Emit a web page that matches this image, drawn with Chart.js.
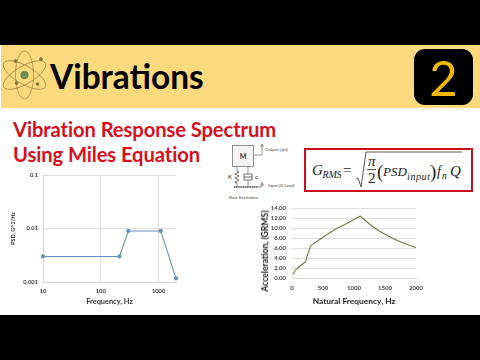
<!DOCTYPE html>
<html><head><meta charset="utf-8">
<script src="https://cdn.jsdelivr.net/npm/chart.js@4"></script>
<style>
html,body{margin:0;padding:0;background:#fff;width:480px;height:360px;overflow:hidden;font-family:Lato,sans-serif}
.abs{position:absolute}
.red{color:#D8101C;font-weight:700;font-size:20.2px;white-space:nowrap;letter-spacing:-.1px}
canvas{position:absolute}
</style></head><body>
<script>
const psdFreq=[10,210,300,1090,2000];
const psdValues=[0.003,0.003,0.009,0.009,0.00117];
const psdXTicks=[10,100,1000];
const psdYTicks=[0.001,0.01,0.1];
const psdYLabels=['0.001','0.01','0.1'];
const grmsFreq=[10,30,50,75,100,150,200,220,250,300,400,500,600,700,800,900,1000,1100,1200,1300,1400,1500,1600,1700,1800,1900,2000];
const grmsValues=[0.65,1.05,1.45,1.8,2.1,2.6,3.05,3.35,4.6,6.45,7.3,8.15,9,9.75,10.4,11,11.7,12.4,11.3,10.3,9.45,8.75,8.1,7.5,7,6.5,6.05];
const grmsYTicks=[0,2,4,6,8,10,12,14];
const grmsXTicks=[0,500,1000,1500,2000];
</script>
<div class="abs" style="left:0;top:0;width:480px;height:45px;background:#000"></div>
<div class="abs" style="left:1px;top:45px;width:479px;height:63px;background:#FDD97E"></div>
<div class="abs" style="left:0;top:315px;width:480px;height:45px;background:#000"></div>
<svg class="abs" style="left:0;top:48px" width="50" height="54" viewBox="0 0 50 54" fill="none" stroke="#7a7030" stroke-width=".55">
 <ellipse cx="24.5" cy="27" rx="24" ry="9" transform="rotate(30 24.5 27)"/>
 <ellipse cx="24.5" cy="27" rx="24" ry="9" transform="rotate(-30 24.5 27)"/>
 <ellipse cx="24.5" cy="27" rx="24" ry="9" transform="rotate(90 24.5 27)"/>
 <circle cx="24.5" cy="27" r="3.8" fill="#6f8f55" stroke="#56703f"/>
 <circle cx="15.5" cy="13" r="1.5" fill="#6f7a33"/><circle cx="41" cy="11" r="1.5" fill="#6f7a33"/>
 <circle cx="16.5" cy="35" r="1.5" fill="#6f7a33"/><circle cx="37.5" cy="36" r="1.5" fill="#6f7a33"/>
</svg>
<div class="abs" style="left:50px;top:55px;font-weight:700;font-size:33.4px;line-height:42px;color:#000">Vibrations</div>
<div class="abs" style="left:414px;top:49px;width:59px;height:56px;background:#000;border-radius:11px;color:#F2B705;font-size:49px;line-height:56px;text-align:center">2</div>
<div class="abs red" style="left:13px;top:116px;line-height:26px">Vibration Response Spectrum</div>
<div class="abs red" style="left:13px;top:141px;line-height:26px">Using Miles Equation</div>

<svg class="abs" style="left:225px;top:140px" width="80" height="62" viewBox="0 0 80 62" fill="none" stroke="#666" stroke-width=".7" font-family="Lato" font-size="4.3">
 <rect x="7.5" y="5.5" width="21" height="21" fill="#f4f4f4"/>
 <text x="18" y="19" font-size="7" font-weight="700" fill="#333" stroke="none" text-anchor="middle">M</text>
 <path d="M28.5 15H37V5M35.5 7L37 4L38.5 7M12 26.5V31M23 26.5V34M12 43V47M23 40V47"/>
 <path d="M12 31l2 1-4 2 4 2-4 2 4 2-4 2 2 1" stroke="#333"/>
 <path d="M19 34h8M19 34v6h8v-6M19 37h8" stroke="#333"/>
 <path d="M9 47H33" stroke="#333" stroke-width="1.4" stroke-dasharray="1.2 .6"/>
 <path d="M33 47H37V44M35.5 45.5L37 42.5L38.5 45.5" stroke="#555"/>
 <text x="40" y="11" fill="#444" stroke="none">Output (y(t))</text>
 <text x="43" y="46.5" fill="#444" stroke="none">Input (G Load)</text>
 <text x="3" y="39" font-size="6" fill="#222" stroke="none">K</text>
 <text x="30" y="39" font-size="6" fill="#222" stroke="none">c</text>
 <text x="4" y="58.5" fill="#444" stroke="none">Base Excitation</text>
</svg>

<div class="abs" style="left:304px;top:148px;width:165px;height:40px;border:2px solid #C8101C;background:#fff"></div>
<svg class="abs" style="left:306px;top:150px" width="165" height="40" viewBox="0 0 165 40" font-family="'Liberation Serif',serif" font-style="italic" fill="#222">
 <text x="6" y="25" font-size="15">G</text><text x="16.5" y="28" font-size="10" textLength="19">RMS</text>
 <text x="37" y="25" font-size="15" font-style="normal">=</text>
 <path d="M50 29l2-1 3 9 5-35h96" fill="none" stroke="#444" stroke-width=".9"/>
 <text x="62" y="16" font-size="15">π</text><path d="M61 19.5h9" stroke="#222" stroke-width=".8"/>
 <text x="62" y="33" font-size="15" font-style="normal">2</text>
 <text x="71" y="28" font-size="19" font-style="normal">(</text>
 <text x="77" y="26" font-size="13" textLength="24">PSD</text><text x="101" y="30" font-size="10" textLength="23">input</text>
 <text x="124" y="28" font-size="19" font-style="normal">)</text>
 <text x="131" y="26" font-size="14">f</text><text x="136" y="29" font-size="9.5">n</text><text x="144" y="26" font-size="15">Q</text>
</svg>

<canvas id="psd" style="left:0;top:165px" width="200" height="141"></canvas>
<canvas id="grms" style="left:252px;top:198px" width="190" height="108"></canvas>
<div class="abs" style="left:265px;top:251px;transform:translate(-50%,-50%) rotate(-90deg);font-weight:700;font-size:8.6px;color:#222;white-space:nowrap">Acceleration, (GRMS)</div>
<script>
Chart.defaults.animation=false;
Chart.defaults.responsive=false;
Chart.defaults.font.family='Lato, sans-serif';
function fixW(w){return s=>{s.width=w}}
function fixH(h){return s=>{s.height=h}}
const gridC='#DEDEDE';
new Chart(document.getElementById('psd'),{type:'scatter',
 data:{datasets:[{data:psdFreq.map((f,i)=>({x:f,y:psdValues[i]})),showLine:true,clip:false,borderColor:'#6292BF',backgroundColor:'#6292BF',borderWidth:1.1,pointRadius:1.6,tension:0}]},
 options:{layout:{padding:{top:10,right:24,left:0,bottom:0}},plugins:{legend:{display:false},tooltip:{enabled:false}},
 scales:{
  x:{type:'logarithmic',min:10,max:2000,afterBuildTicks:s=>{s.ticks=psdXTicks.map(v=>({value:v}))},afterFit:fixH(24),
     grid:{color:gridC,drawTicks:false},border:{color:'#D4D4D4'},
     ticks:{autoSkip:false,maxRotation:0,padding:6,color:'#333',font:{size:5.8,weight:'bold'},callback:v=>String(v)},
     title:{display:true,text:'Frequency, Hz',color:'#333',font:{size:7.4,weight:'bold'},padding:{top:2,bottom:0}}},
  y:{type:'logarithmic',min:0.001,max:0.1,afterBuildTicks:s=>{s.ticks=psdYTicks.map(v=>({value:v}))},afterFit:fixW(43),
     grid:{color:gridC,drawTicks:false},border:{color:'#D4D4D4'},
     ticks:{autoSkip:false,padding:5,color:'#333',font:{size:5.8,weight:'bold'},callback:v=>psdYLabels[psdYTicks.indexOf(v)]??''},
     title:{display:true,text:'PSD, G^2/Hz',color:'#333',font:{size:5.5,weight:'bold'},padding:{top:10,bottom:0}}}
 }}});
new Chart(document.getElementById('grms'),{type:'scatter',
 data:{datasets:[{data:grmsFreq.map((f,i)=>({x:f,y:grmsValues[i]})),showLine:true,clip:false,borderColor:'#6B8040',borderWidth:1.1,pointRadius:0,tension:0}]},
 options:{layout:{padding:{top:10,right:26,left:0,bottom:0}},plugins:{legend:{display:false},tooltip:{enabled:false}},
 scales:{
  x:{type:'linear',min:0,max:2000,afterBuildTicks:s=>{s.ticks=grmsXTicks.map(v=>({value:v}))},afterFit:fixH(28),
     grid:{display:false,drawTicks:false},border:{color:'#D4D4D4'},
     ticks:{autoSkip:false,maxRotation:0,padding:6,color:'#444',font:{size:6,weight:'bold'},callback:v=>String(v)},
     title:{display:true,text:'Natural Frequency, Hz',color:'#222',font:{size:8.4,weight:'bold'},padding:{top:2,bottom:0}}},
  y:{type:'linear',min:0,max:14,afterBuildTicks:s=>{s.ticks=grmsYTicks.map(v=>({value:v}))},afterFit:fixW(40),
     grid:{color:gridC,drawTicks:false},border:{display:false},
     ticks:{autoSkip:false,padding:6,color:'#444',font:{size:6,weight:'bold'},callback:v=>v.toFixed(2)},
     title:{display:false}}
 }}});
</script>
</body></html>
